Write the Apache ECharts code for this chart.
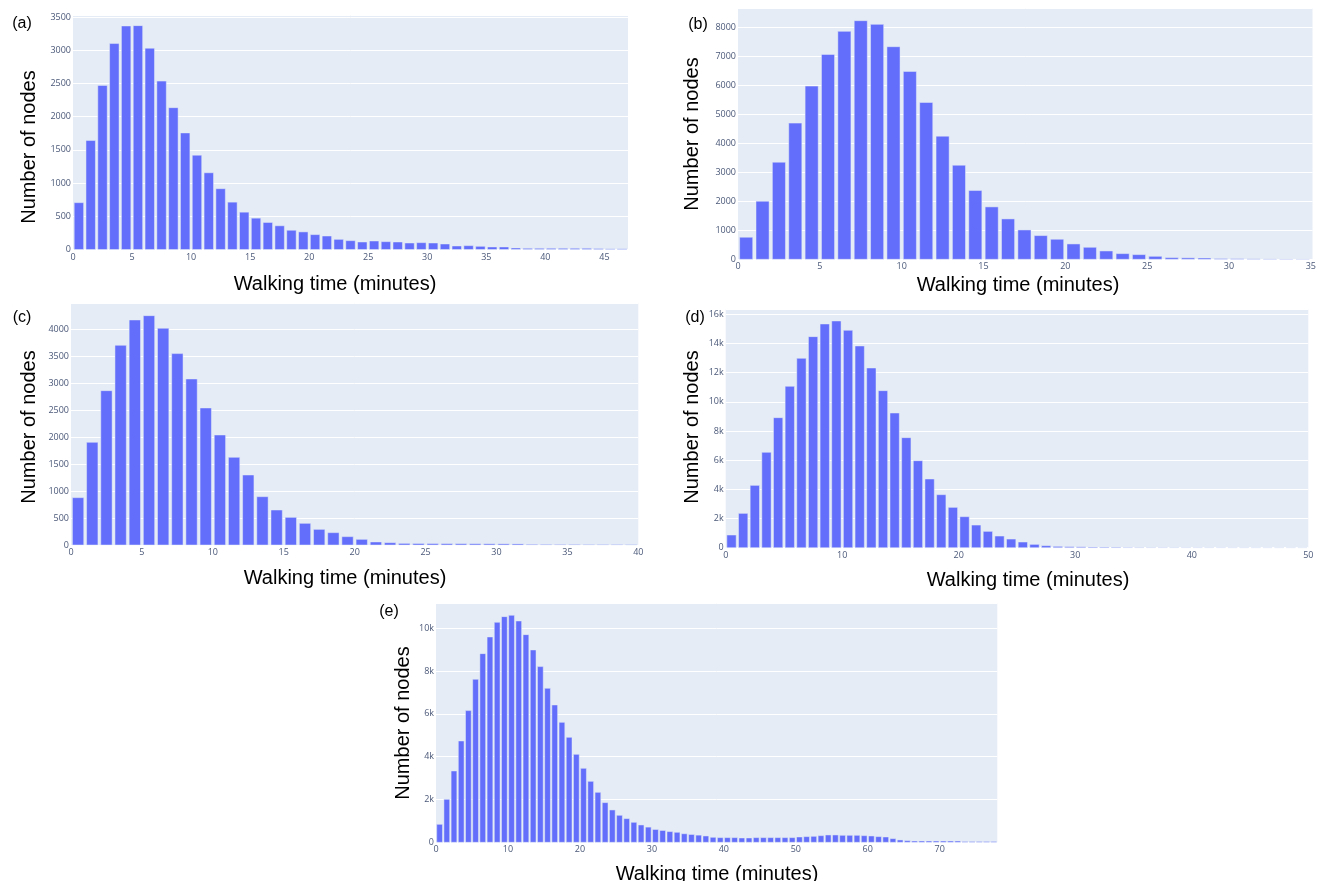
<!DOCTYPE html>
<html><head><meta charset="utf-8">
<script src="https://cdn.jsdelivr.net/npm/echarts@6/dist/echarts.min.js"></script>
<style>html,body{margin:0;padding:0;background:#fff}#c{width:1319px;height:881px}</style>
</head><body><div id="c"></div>
<script>
// ---- data (counts per 1-minute bin, bins start at 0) ----
const countsA = [705, 1640, 2470, 3100, 3365, 3370, 3030, 2535, 2135, 1755,
  1420, 1155, 915, 713, 562, 472, 407, 357, 290, 265,
  224, 203, 153, 133, 113, 128, 118, 113, 98, 103,
  98, 83, 53, 58, 48, 38, 38, 23, 18, 18,
  18, 18, 18, 18, 14, 10, 10];
const countsB = [760, 2000, 3345, 4690, 5966, 7057, 7851, 8218, 8092, 7322,
  6471, 5402, 4241, 3241, 2368, 1805, 1391, 1011, 816, 690,
  529, 414, 287, 195, 161, 103, 57, 50, 45, 25,
  20, 15, 12, 10, 8];
const countsC = [878, 1904, 2862, 3703, 4173, 4253, 4019, 3549, 3079, 2541,
  2040, 1626, 1298, 896, 649, 513, 402, 290, 229, 155,
  105, 56, 43, 30, 28, 26, 25, 24, 23, 22,
  21, 20, 12, 11, 10, 10, 9, 8, 8, 7];
const countsD = [869, 2354, 4274, 6537, 8914, 11063, 12983, 14469, 15337, 15543,
  14903, 13829, 12320, 10766, 9234, 7543, 5966, 4709, 3634, 2766,
  2126, 1554, 1120, 800, 594, 389, 229, 137, 91, 69,
  60, 50, 45, 40, 25, 20, 18, 16, 15, 14,
  13, 12, 11, 10, 10, 9, 9, 8, 8, 7];
const countsE = [841, 2009, 3333, 4735, 6153, 7617, 8816, 9595, 10280, 10545,
  10607, 10343, 9704, 8988, 8209, 7196, 6417, 5607, 4907, 4112,
  3458, 2850, 2336, 1854, 1511, 1262, 1106, 935, 810, 710,
  600, 553, 500, 468, 400, 366, 335, 296, 234, 218,
  218, 218, 202, 202, 218, 218, 218, 218, 218, 218,
  249, 265, 280, 311, 343, 343, 327, 327, 327, 311,
  296, 265, 249, 171, 109, 78, 62, 62, 62, 62,
  62, 62, 62, 40, 40, 40, 40, 40];
const panelLabels = ['(a)', '(b)', '(c)', '(d)', '(e)'];
const xTitle = 'Walking time (minutes)';
const yTitle = 'Number of nodes';
const binWidth = 1;

// ---- layout ----
const panels = [
  {data: countsA, grid: {left: 73, top: 15, width: 555, height: 234.5}, xMax: 47, xInt: 5, yMax: 3530, yInt: 500, k: false,
   lab: [22, 24], yt: [29.5, 147], xt: [335, 284]},
  {data: countsB, grid: {left: 738, top: 8, width: 580, height: 251.3}, xMax: 35.1, xInt: 5, yMax: 8655, yInt: 1000, k: false,
   lab: [698, 25], yt: [692.5, 134], xt: [1018, 285]},
  {data: countsC, grid: {left: 71, top: 303.3, width: 567.3, height: 241.7}, xMax: 40, xInt: 5, yMax: 4482, yInt: 500, k: false,
   lab: [22, 318], yt: [29.5, 427], xt: [345, 578]},
  {data: countsD, grid: {left: 725.7, top: 309.3, width: 582.6, height: 238.4}, xMax: 50, xInt: 10, yMax: 16343, yInt: 2000, k: true,
   lab: [695, 318], yt: [692.5, 427], xt: [1028, 580]},
  {data: countsE, grid: {left: 436, top: 603.3, width: 561.3, height: 239}, xMax: 78, xInt: 10, yMax: 11168, yInt: 2000, k: true,
   lab: [389, 612], yt: [403.5, 723], xt: [717, 874]}
];

const tickColor = '#4a5878';
const tickFont = 'Open Sans';
const titleFont = 'Liberation Sans';

const grids = [], xAxes = [], yAxes = [], series = [], graphics = [];
panels.forEach((p, i) => {
  grids.push(Object.assign({show: true, backgroundColor: '#E5ECF6', borderWidth: 0, containLabel: false}, p.grid));
  xAxes.push({
    type: 'value', gridIndex: i, min: 0, max: p.xMax, interval: p.xInt,
    axisLine: {show: false}, axisTick: {show: false}, splitLine: {show: false},
    axisLabel: {
      fontSize: 9, color: tickColor, fontFamily: tickFont, margin: 3,
      formatter: v => (Math.abs(v / p.xInt - Math.round(v / p.xInt)) < 1e-6) ? String(Math.round(v)) : ''
    }
  });
  yAxes.push({
    type: 'value', gridIndex: i, min: 0, max: p.yMax, interval: p.yInt,
    axisLine: {show: false}, axisTick: {show: false},
    splitLine: {show: true, lineStyle: {color: '#ffffff', width: 1}},
    axisLabel: {
      fontSize: 9, color: tickColor, fontFamily: tickFont, margin: 2,
      formatter: v => {
        if (Math.abs(v / p.yInt - Math.round(v / p.yInt)) > 1e-6) return '';
        if (v === 0) return '0';
        return p.k ? (v / 1000) + 'k' : String(v);
      }
    }
  });
  series.push({
    type: 'custom', xAxisIndex: i, yAxisIndex: i,
    data: p.data.map((v, j) => [j * binWidth, v]),
    encode: {x: 0, y: 1},
    renderItem: (params, api) => {
      const x0 = api.value(0), v = api.value(1);
      const a = api.coord([x0 + 0.1 * binWidth, v]);
      const b = api.coord([x0 + 0.9 * binWidth, 0]);
      const cs = params.coordSys;
      const r = echarts.graphic.clipRectByRect(
        {x: a[0], y: a[1], width: b[0] - a[0], height: b[1] - a[1]},
        {x: cs.x, y: cs.y, width: cs.width, height: cs.height});
      return r && {type: 'rect', shape: r, style: {fill: '#636efa', stroke: '#E5ECF6', lineWidth: 0.5}};
    }
  });
  graphics.push({type: 'text', x: p.lab[0], y: p.lab[1],
    style: {text: panelLabels[i], font: '16px "' + titleFont + '"', fill: '#000', align: 'center', verticalAlign: 'middle'}});
  graphics.push({type: 'text', x: p.yt[0], y: p.yt[1], rotation: Math.PI / 2,
    style: {text: yTitle, font: '20px "' + titleFont + '"', fill: '#000', align: 'center', verticalAlign: 'middle'}});
  graphics.push({type: 'text', x: p.xt[0], y: p.xt[1],
    style: {text: xTitle, font: '20px "' + titleFont + '"', fill: '#000', align: 'center', verticalAlign: 'middle'}});
});

const chart = echarts.init(document.getElementById('c'), null, {renderer: 'canvas'});
chart.setOption({
  animation: false,
  backgroundColor: '#ffffff',
  grid: grids, xAxis: xAxes, yAxis: yAxes, series: series,
  graphic: graphics
});
</script>
</body></html>
